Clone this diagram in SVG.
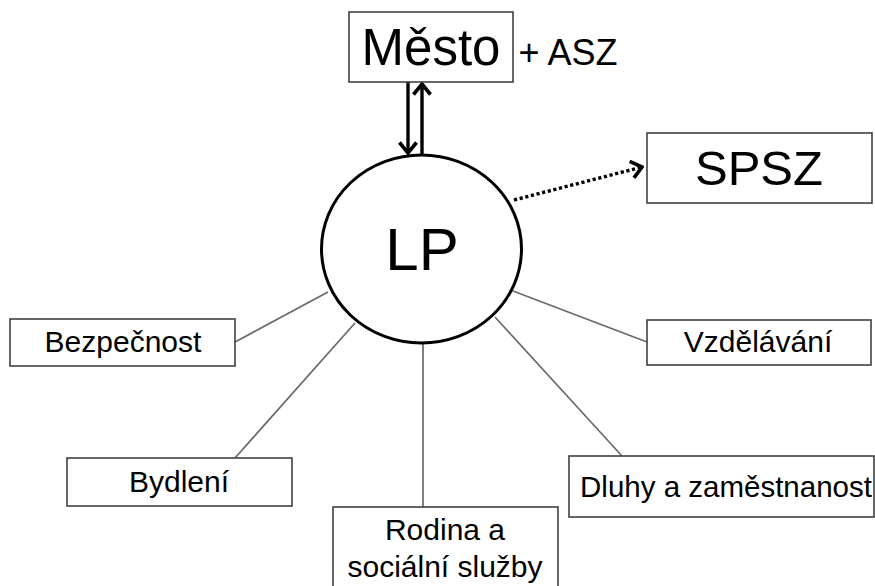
<svg xmlns="http://www.w3.org/2000/svg" width="875" height="586" viewBox="0 0 875 586">
<defs>
<style>
.box{fill:#fff;stroke:#404040;stroke-width:1.6}
.t{font-family:"Liberation Sans",Arial,sans-serif;fill:#000;text-anchor:middle}
.spoke{stroke:#6a6a6a;stroke-width:1.7;fill:none}
.arr{stroke:#000;stroke-width:3.4;fill:none}
</style>
<marker id="chev" markerUnits="userSpaceOnUse" viewBox="0 0 14 20" refX="12" refY="10" markerWidth="14" markerHeight="20" orient="auto">
<path d="M1.5,1.5 L12,10 L1.5,18.5" fill="none" stroke="#000" stroke-width="3.6"/>
</marker>
</defs>
<rect width="875" height="586" fill="#fff"/>
<g id="connectors">
<line class="spoke" x1="235" y1="342" x2="328" y2="292"/>
<line class="spoke" x1="235" y1="458" x2="355" y2="323"/>
<line class="spoke" x1="423" y1="343" x2="423" y2="507"/>
<line class="spoke" x1="622" y1="456" x2="495" y2="317"/>
<line class="spoke" x1="647" y1="342" x2="513" y2="291"/>
<line class="arr" x1="408" y1="82" x2="408" y2="153" marker-end="url(#chev)"/>
<line class="arr" x1="422" y1="155" x2="422" y2="84" marker-end="url(#chev)"/>
<line class="arr" x1="514" y1="200" x2="642" y2="167" stroke-width="3.8" stroke-dasharray="3.2 2.6" marker-end="url(#chev)"/>
</g>
<g id="mesto">
<rect class="box" x="349" y="12" width="164" height="70"/>
<text class="t" x="431" y="65" font-size="51">Město</text>
</g>
<g id="asz">
<text class="t" x="568" y="65" font-size="36">+ ASZ</text>
</g>
<g id="lp">
<ellipse cx="421.5" cy="249" rx="100" ry="94" fill="#fff" stroke="#000" stroke-width="3"/>
<text class="t" x="422" y="270" font-size="60">LP</text>
</g>
<g id="spsz">
<rect class="box" x="647" y="133" width="225" height="70"/>
<text class="t" x="759" y="185" font-size="49">SPSZ</text>
</g>
<g id="bezpecnost">
<rect class="box" x="10" y="319" width="225" height="47"/>
<text class="t" x="123" y="352" font-size="30">Bezpečnost</text>
</g>
<g id="vzdelavani">
<rect class="box" x="647" y="320" width="224" height="45"/>
<text class="t" x="758" y="352" font-size="30">Vzdělávání</text>
</g>
<g id="bydleni">
<rect class="box" x="67" y="458" width="225" height="48"/>
<text class="t" x="179" y="492" font-size="30">Bydlení</text>
</g>
<g id="rodina">
<rect class="box" x="333" y="507" width="225" height="90"/>
<text class="t" x="445" y="540" font-size="30">Rodina a</text>
<text class="t" x="445" y="577" font-size="30">sociální služby</text>
</g>
<g id="dluhy">
<rect class="box" x="569" y="456" width="305" height="61"/>
<text class="t" x="726" y="497" font-size="29.5">Dluhy a zaměstnanost</text>
</g>
</svg>
